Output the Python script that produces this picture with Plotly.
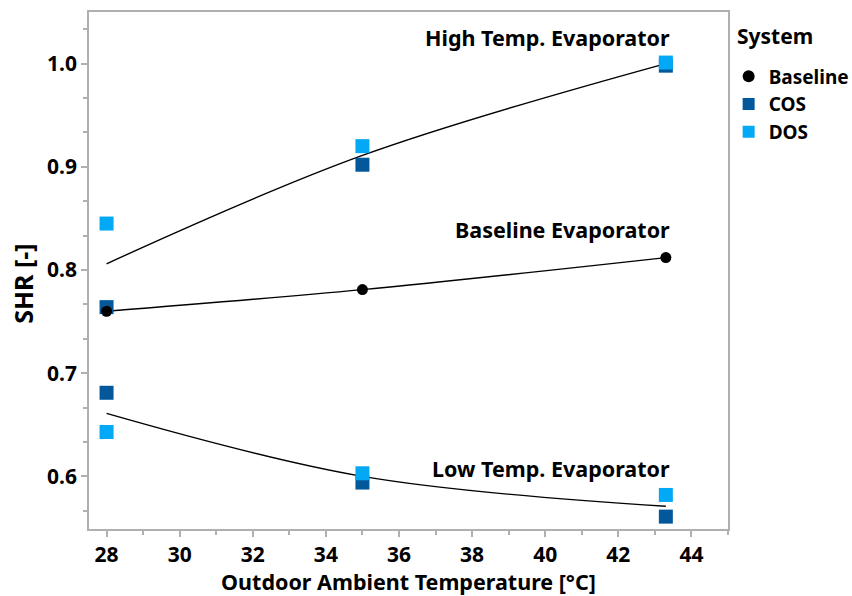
import plotly.graph_objects as go

# data
temps = [28, 35, 43.3]
baseline_shr = [0.760, 0.781, 0.812]
cos_x = [28, 28, 35, 35, 43.3, 43.3]
cos_shr = [0.764, 0.681, 0.902, 0.594, 0.998, 0.561]
dos_x = [28, 28, 35, 35, 43.3, 43.3]
dos_shr = [0.845, 0.643, 0.920, 0.603, 1.001, 0.582]

fit_high = [0.806, 0.911, 1.000]
fit_base = [0.760, 0.781, 0.812]
fit_low = [0.661, 0.600, 0.571]

labels = ["High Temp. Evaporator", "Baseline Evaporator", "Low Temp. Evaporator"]
label_y = [1.0255, 0.839, 0.608]

FONT = "Noto Sans"
COS_C = "#03589C"
DOS_C = "#03A9F4"

fig = go.Figure()
for fy in (fit_high, fit_base, fit_low):
    fig.add_trace(go.Scatter(x=temps, y=fy, mode="lines", showlegend=False,
                             line=dict(color="black", width=1.4, shape="spline", smoothing=1.0),
                             hoverinfo="skip"))

fig.add_trace(go.Scatter(x=cos_x, y=cos_shr, mode="markers", name="COS",
                         marker=dict(symbol="square", size=14, color=COS_C)))
fig.add_trace(go.Scatter(x=dos_x, y=dos_shr, mode="markers", name="DOS",
                         marker=dict(symbol="square", size=14, color=DOS_C)))
fig.add_trace(go.Scatter(x=temps, y=baseline_shr, mode="markers", name="Baseline",
                         marker=dict(symbol="circle", size=11, color="black")))

for txt, yy in zip(labels, label_y):
    fig.add_annotation(x=43.3, y=yy, text=txt, showarrow=False,
                       xanchor="right", yanchor="middle", xshift=6,
                       font=dict(family=FONT, size=21.5, color="black", weight="bold"))

# y-axis title and legend title as annotations
fig.add_annotation(xref="paper", yref="paper", x=-0.1035, y=0.474, text="SHR [-]",
                   textangle=-90, showarrow=False, xanchor="center", yanchor="middle",
                   font=dict(family=FONT, size=25, color="black", weight="bold"))
fig.add_annotation(xref="paper", yref="paper", x=1.0115, y=0.9545, text="System",
                   showarrow=False, xanchor="left", yanchor="middle",
                   font=dict(family=FONT, size=21, color="black", weight="bold"))

axis_common = dict(showline=True, linecolor="#b0b0b0", linewidth=1.5, mirror=True,
                   showgrid=False, zeroline=False, ticks="outside", ticklen=6,
                   tickcolor="#b0b0b0", tickwidth=1.5,
                   tickfont=dict(family=FONT, size=21, color="black", weight="bold"))

fig.update_xaxes(range=[27.52, 45], tick0=28, dtick=2,
                 minor=dict(dtick=1, tick0=28, ticks="outside", ticklen=4, tickcolor="#b0b0b0"),
                 title=dict(text="Outdoor Ambient Temperature [°C]",
                            font=dict(family=FONT, size=21.5, color="black", weight="bold"), standoff=6),
                 **axis_common)
fig.update_yaxes(range=[0.549, 1.05], tick0=0.6, dtick=0.1, tickformat=".1f",
                 minor=dict(dtick=0.1 / 3, tick0=0.6, ticks="outside", ticklen=4, tickcolor="#b0b0b0"),
                 **axis_common)

fig.update_layout(
    width=852, height=596,
    margin=dict(l=89, r=124, t=12, b=67, autoexpand=False),
    plot_bgcolor="white", paper_bgcolor="white",
    font=dict(family=FONT, color="black"),
    legend=dict(traceorder="normal", itemwidth=30, bgcolor="rgba(0,0,0,0)",
                x=1.001, xanchor="left", y=0.912, yanchor="top",
                font=dict(family=FONT, size=19, weight="bold"), itemsizing="constant",
                tracegroupgap=0),
)
# legend order: Baseline, COS, DOS
fig.data[5].legendrank = 1
fig.data[3].legendrank = 2
fig.data[4].legendrank = 3

fig.write_html("out.html")
